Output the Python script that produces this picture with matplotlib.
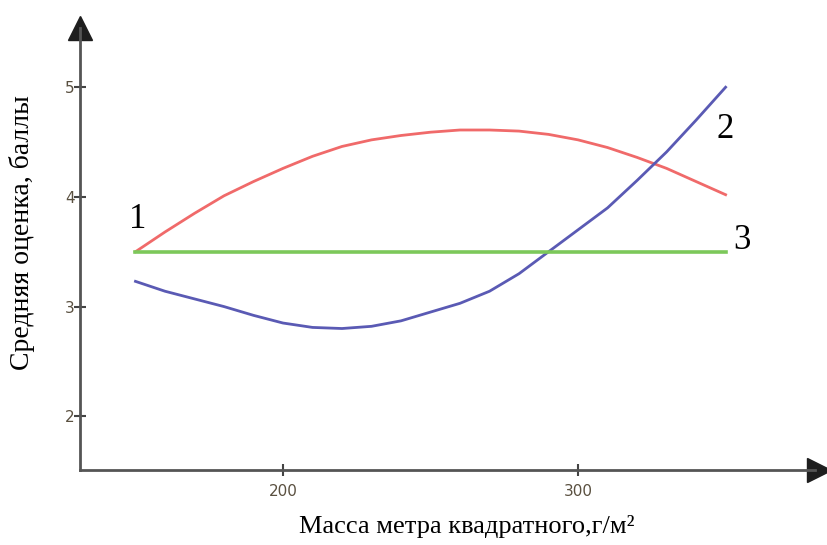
import numpy as np
import matplotlib.pyplot as plt

# масса, г/м2
mass = [150, 160, 170, 180, 190, 200, 210, 220, 230, 240, 250,
        260, 270, 280, 290, 300, 310, 320, 330, 340, 350]
curve1 = [3.50, 3.68, 3.85, 4.01, 4.14, 4.26, 4.37, 4.46, 4.52, 4.56, 4.59,
          4.61, 4.61, 4.60, 4.57, 4.52, 4.45, 4.36, 4.26, 4.14, 4.02]
curve2 = [3.23, 3.14, 3.07, 3.00, 2.92, 2.85, 2.81, 2.80, 2.82, 2.87, 2.95,
          3.03, 3.14, 3.30, 3.50, 3.70, 3.90, 4.15, 4.41, 4.70, 5.00]
mass3 = [150, 350]
curve3 = [3.5, 3.5]

xticks = [200, 300]
yticks = [2, 3, 4, 5]

fig = plt.figure(figsize=(8.28, 5.45), dpi=100)
ax = fig.add_axes([80 / 828, 75 / 545, 735 / 828, 442 / 545])

ax.plot(mass, curve1, color='#f06a6a', linewidth=2, solid_joinstyle='round')
ax.plot(mass, curve2, color='#5a5ab4', linewidth=2, solid_joinstyle='round')
ax.plot(mass3, curve3, color='#7cc85a', linewidth=2.6)

ax.set_xlim(131.2, 380.3)
ax.set_ylim(1.51, 5.54)

for s in ['top', 'right']:
    ax.spines[s].set_visible(False)
for s in ['left', 'bottom']:
    ax.spines[s].set_color('#555555')
    ax.spines[s].set_linewidth(2)

ax.set_xticks(xticks)
ax.set_yticks(yticks)
ax.tick_params(direction='inout', length=8, width=1.5, color='#444444',
               labelsize=11, labelcolor='#5a5040')
ax.tick_params(axis='x', pad=6)
ax.tick_params(axis='y', pad=0)

# arrow heads
ax.plot([0], [1.0], marker='^', markersize=17, color='#1e1e1e',
        transform=ax.transAxes, clip_on=False)
ax.plot([1.005], [0], marker='>', markersize=17, color='#1e1e1e',
        transform=ax.transAxes, clip_on=False)

serif = 'Liberation Serif'
ax.text(150.8, 3.79, '1', fontsize=25, family=serif, ha='center', va='center')
ax.text(349.8, 4.61, '2', fontsize=25, family=serif, ha='center', va='center')
ax.text(355.6, 3.60, '3', fontsize=25, family=serif, ha='center', va='center')

fig.text(22 / 828, 1 - 233 / 545, 'Средняя оценка, баллы', rotation=90,
         fontsize=20, family=serif, ha='center', va='center')
fig.text(467 / 828, 1 - 527 / 545, 'Масса метра квадратного,г/м²',
         fontsize=19, family=serif, ha='center', va='center')

fig.savefig('out.png', dpi=100)
